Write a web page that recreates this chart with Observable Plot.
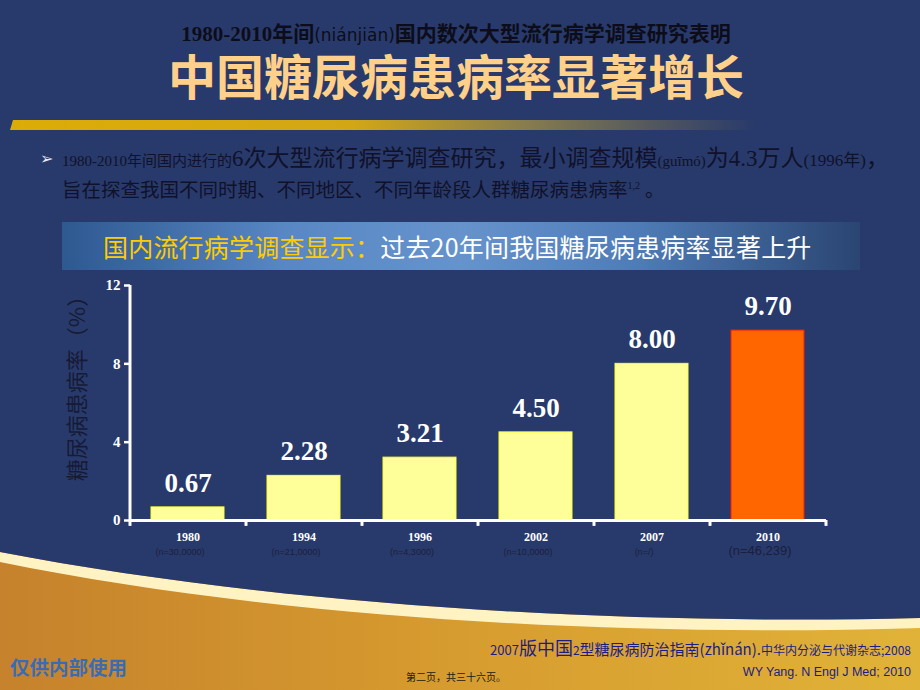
<!DOCTYPE html>
<html>
<head>
<meta charset="utf-8">
<script src="https://cdn.jsdelivr.net/npm/d3@7"></script>
<script src="https://cdn.jsdelivr.net/npm/@observablehq/plot@0.6"></script>
<style>
  html, body { margin: 0; padding: 0; }
  body { width: 920px; height: 690px; position: relative; overflow: hidden; background: #283a6b;
         font-family: "Noto Sans CJK SC", "Noto Sans", sans-serif; }
  .abs { position: absolute; white-space: nowrap; }
  #deco { position: absolute; left: 0; top: 0; }
  #sub { left: 0; width: 912px; top: 23px; text-align: center; font-size: 21px; font-weight: bold; color: #0d0d1a;
         font-family: "Liberation Serif", "Noto Sans CJK SC", serif; line-height: 22px; }
  #sub .py { font-family: "DejaVu Sans", sans-serif; font-weight: normal; font-size: 17px; line-height: 22px; }
  #title { left: 0; width: 912px; top: 49px; text-align: center; font-size: 48px; font-weight: bold; color: #ffd08a; line-height: 50px; }
  #goldbar { left: 10px; top: 120px; width: 760px; height: 10px;
             background: linear-gradient(90deg, #dcac06 0%, #d2a716 45%, rgba(175,152,66,0.7) 68%, rgba(40,58,107,0) 98%);
             clip-path: polygon(3px 0, 100% 0, 100% 100%, 0 100%); }
  .bullet { color: #10112a; font-size: 19.5px; line-height: 26px; font-family: "Liberation Serif", "Noto Sans CJK SC", serif; }
  .bullet .s { font-size: 15px; }
  .bullet .b { font-size: 23px; }
  .bullet .m { font-size: 17px; }
  #arrow { left: 40px; top: 146px; color: #e8e8f0; font-size: 16px; line-height: 26px; font-family: "DejaVu Sans", sans-serif; }
  #b1 { left: 62px; top: 146px; }
  #b2 { left: 62px; top: 173px; }
  #banner { left: 62px; top: 222px; width: 798px; height: 48px;
            background: linear-gradient(90deg, #2e5890 0%, #5887c4 28%, #6693cc 50%, #4f7cb7 72%, #2a4572 100%); }
  #bannerText { left: 103px; top: 230px; font-size: 25px; letter-spacing: 0.2px; line-height: 32px; color: #ffffff; }
  #bannerText .g { color: #ffcc00; }
  #chart { position: absolute; left: 0; top: 270px; }
  #ylabel { left: 75px; top: 383px; transform: translate(-50%, -50%) rotate(-90deg); font-size: 22px; line-height: 26px; color: #161a36; }
  #internal { left: 10px; top: 654px; font-size: 19.5px; line-height: 26px; font-weight: bold; color: #3a6cb4; }
  #page { left: 0; width: 912px; text-align: center; top: 669px; font-size: 10px; color: #1a1a1a; }
  #cite1 { right: 9px; top: 636px; color: #1c1c86; font-size: 15px; line-height: 22px; }
  #cite1 .b { font-size: 18px; }
  #cite1 .n { font-size: 13px; }
  #cite1 .sm { font-size: 12px; }
  #cite2 { right: 9px; top: 663px; color: #1c1c86; font-size: 12.5px; line-height: 18px; font-family: "Liberation Sans", "Noto Sans", sans-serif; }
</style>
</head>
<body>
<svg id="deco" width="920" height="690">
  <defs>
    <linearGradient id="gold" x1="0" x2="1" y1="0" y2="0">
      <stop offset="0" stop-color="#c6822c"/>
      <stop offset="0.5" stop-color="#d79c2f"/>
      <stop offset="1" stop-color="#e0b338"/>
    </linearGradient>
  </defs>
  <rect x="0" y="0" width="920" height="690" fill="url(#gold)"/>
  <path d="M0,552 C260,602 600,626 920,618 L920,628 C600,638 260,615 0,562 Z" fill="#fff3c4"/>
  <path d="M0,0 H920 V618 C600,626 260,602 0,552 Z" fill="#283a6b"/>
</svg>

<div id="sub" class="abs">1980-2010年间<span class="py">(niánjiān)</span>国内数次大型流行病学调查研究表明</div>
<div id="title" class="abs">中国糖尿病患病率显著增长</div>
<div id="goldbar" class="abs"></div>
<div id="arrow" class="abs">➢</div>
<div id="b1" class="abs bullet"><span class="s">1980-2010年间国内进行的</span><span class="b">6次大型流行病学调查研究，最小调查规模</span><span class="s">(guīmó)</span><span class="b">为4.3万人</span><span class="m">(1996年)</span><span class="b">，</span></div>
<div id="b2" class="abs bullet">旨在探查我国不同时期、不同地区、不同年龄段人群糖尿病患病率<sup style="font-size:10px">1,2</sup> 。</div>
<div id="banner" class="abs"></div>
<div id="bannerText" class="abs"><span class="g">国内流行病学调查显示：</span>过去20年间我国糖尿病患病率显著上升</div>
<div id="chart"></div>
<div id="ylabel" class="abs"></div>
<div id="internal" class="abs">仅供内部使用</div>
<div id="page" class="abs">第二页，共三十六页。</div>
<div id="cite1" class="abs"><span class="n">2007</span><span class="b">版中国</span><span class="sm">2</span>型糖尿病防治指南(zhǐnán).<span class="sm">中华内分泌与代谢杂志;2008</span></div>
<div id="cite2" class="abs">WY Yang. N Engl J Med; 2010</div>

<script>
// ---- data ----
const years = ["1980", "1994", "1996", "2002", "2007", "2010"];
const prevalence = [0.67, 2.28, 3.21, 4.50, 8.00, 9.70];
const sampleSizes = ["(n=30,0000)", "(n=21,0000)", "(n=4,3000)", "(n=10,0000)", "(n=/)", "(n=46,239)"];
const yTicks = [0, 4, 8, 12];
const yLabel = "糖尿病患病率（%）";
const highlightYear = "2010";

const data = years.map((year, i) => ({year, value: prevalence[i], n: sampleSizes[i]}));

const W = 860, H = 300, ML = 130, MR = 34, MT = 15, MB = 50;
const step = (W - ML - MR) / years.length;
const serif = "Liberation Serif, Times New Roman, serif";

const chart = Plot.plot({
  width: W, height: H,
  marginLeft: ML, marginRight: MR, marginTop: MT, marginBottom: MB,
  style: {background: "transparent", overflow: "visible"},
  x: {domain: years, paddingInner: 0.37, paddingOuter: 0.185, axis: null},
  y: {domain: [0, 12], axis: null},
  marks: [
    Plot.barY(data, {
      x: "year", y: "value",
      fill: d => d.year === highlightYear ? "#ff6600" : "#ffff99",
      stroke: d => d.year === highlightYear ? "#ff1a00" : "#ffff33",
      strokeWidth: 1
    }),
    Plot.ruleY([0], {stroke: "white", strokeWidth: 3}),
    Plot.ruleX([years[0]], {x: d => d, y1: -0.3, y2: 12, dx: -step / 2, stroke: "white", strokeWidth: 3}),
    Plot.ruleX(years, {x: d => d, y1: 0, y2: -0.3, dx: step / 2, stroke: "white", strokeWidth: 3}),
    Plot.axisY({ticks: yTicks, tickSize: 6, tickPadding: 4, stroke: "white", strokeWidth: 2.5,
                fill: "white", fontSize: 15, fontWeight: "bold", fontFamily: serif, label: null}),
    Plot.text(data, {x: "year", y: "value", text: d => d.value.toFixed(2), dy: -24,
                     fontSize: 27, fontWeight: "bold", fontFamily: serif, fill: "white"}),
    Plot.text(data, {x: "year", text: "year", frameAnchor: "bottom", dy: 20,
                     fontSize: 12, fontWeight: "bold", fontFamily: serif, fill: "white"}),
    Plot.text(data, {x: "year", text: "n", frameAnchor: "bottom", dy: 34, dx: -8,
                     fontSize: d => d.year === highlightYear ? 13 : 9,
                     fontFamily: "Liberation Sans, Arial, sans-serif", fill: "#1b1e3c"})
  ]
});
document.getElementById("chart").appendChild(chart);
document.getElementById("ylabel").textContent = yLabel;
</script>
</body>
</html>
